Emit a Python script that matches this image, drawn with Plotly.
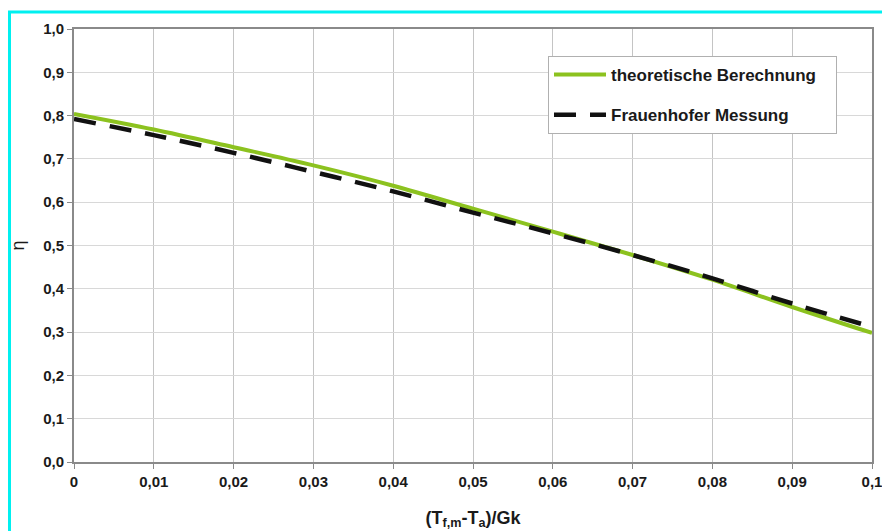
import plotly.graph_objects as go

x_vals = [0, 0.01, 0.02, 0.03, 0.04, 0.05, 0.06, 0.07, 0.08, 0.09, 0.1]
theorie = [0.804, 0.768, 0.727, 0.685, 0.638, 0.585, 0.532, 0.478, 0.421, 0.358, 0.298]
messung = [0.792, 0.755, 0.714, 0.670, 0.625, 0.576, 0.528, 0.478, 0.424, 0.366, 0.312]

x_ticks = [0, 0.01, 0.02, 0.03, 0.04, 0.05, 0.06, 0.07, 0.08, 0.09, 0.1]
x_labels = ["0", "0,01", "0,02", "0,03", "0,04", "0,05", "0,06", "0,07", "0,08", "0,09", "0,1"]
y_ticks = [0, 0.1, 0.2, 0.3, 0.4, 0.5, 0.6, 0.7, 0.8, 0.9, 1.0]
y_labels = ["0,0", "0,1", "0,2", "0,3", "0,4", "0,5", "0,6", "0,7", "0,8", "0,9", "1,0"]

FONT = "Liberation Sans, Arial, sans-serif"
PAD = "&nbsp;" * 3

fig = go.Figure()
fig.add_trace(go.Scatter(
    x=x_vals, y=theorie, mode="lines", name="<b>theoretische Berechnung</b>" + PAD,
    line=dict(color="#8cc21f", width=4, shape="spline"), legendgroup="a"))
fig.add_trace(go.Scatter(
    x=x_vals, y=messung, mode="lines", name="<b>Frauenhofer Messung</b>",
    line=dict(color="#111111", width=4.5, dash="22px,14px", shape="spline"), legendgroup="b"))

L, T, W, H = 74, 29, 798, 433
def px(xp):
    return (xp - L) / W
def py(yp):
    return (T + H - yp) / H

shapes = [
    dict(type="line", xref="paper", yref="paper", x0=px(8), x1=px(882), y0=py(12), y1=py(12),
         line=dict(color="#00f0f0", width=3)),
    dict(type="line", xref="paper", yref="paper", x0=px(9.5), x1=px(9.5), y0=py(11), y1=py(531),
         line=dict(color="#00f0f0", width=3)),
]

fig.update_layout(
    width=882, height=531,
    margin=dict(l=L, r=882 - L - W, t=T, b=531 - T - H, autoexpand=False),
    paper_bgcolor="white", plot_bgcolor="white",
    font=dict(family=FONT, color="#1a1a1a"),
    shapes=shapes,
    showlegend=True,
    legend=dict(
        x=px(548), y=py(56), xanchor="left", yanchor="top",
        bgcolor="white", bordercolor="#b0b0b0", borderwidth=1,
        font=dict(family=FONT, size=17, color="#1a1a1a"),
        traceorder="grouped", tracegroupgap=15, itemwidth=52,
    ),
    xaxis=dict(
        range=[0, 0.1], tickvals=x_ticks, ticktext=["<b>%s</b>" % s for s in x_labels],
        tickfont=dict(size=15), showgrid=True, gridcolor="#c4c4c4", gridwidth=1,
        showline=True, linecolor="#8a8a8a", linewidth=2, mirror=True,
        ticks="outside", ticklen=5, tickcolor="#8a8a8a", zeroline=False, automargin=False,
        ticklabeloverflow="allow",
        title=dict(text="<b>(T<sub>f,m</sub>-T<sub>a</sub>)/Gk</b>", font=dict(size=18), standoff=22),
    ),
    yaxis=dict(
        range=[0, 1.0], tickvals=y_ticks, ticktext=["<b>%s</b>" % s for s in y_labels],
        tickfont=dict(size=15), showgrid=True, gridcolor="#d8d8d8", gridwidth=1,
        showline=True, linecolor="#8a8a8a", linewidth=2, mirror=True,
        ticks="outside", ticklen=5, tickcolor="#8a8a8a", zeroline=False, automargin=False,
        ticklabeloverflow="allow",
        title=dict(text="η", font=dict(size=18), standoff=14),
    ),
)

fig.write_html("out.html")
